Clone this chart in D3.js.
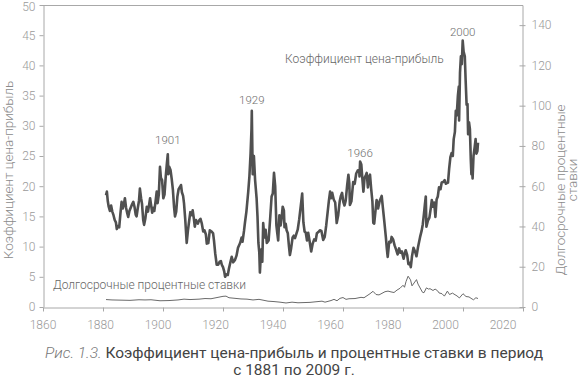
<!DOCTYPE html>
<html>
<head>
<meta charset="utf-8">
<script src="https://cdn.jsdelivr.net/npm/d3@7"></script>
<style>
  html, body { margin: 0; padding: 0; background: #fff; }
  svg { display: block; font-family: Roboto, "Open Sans", sans-serif; }
</style>
</head>
<body>
<svg id="chart" width="580" height="380"></svg>
<script>
// ---------- DATA ----------
const peYears = [
1881.0,1881.3,1881.6,1881.9,1882.3,1882.7,1883.1,1883.5,1883.9,1884.3,1884.6,1885.0,1885.4,1885.8,1886.2,1886.6,1887.0,1887.3,1887.7,1888.1,
1888.4,1888.8,1889.2,1889.6,1890.1,1890.5,1890.9,1891.2,1891.6,1892.0,1892.3,1892.7,1893.0,1893.4,1893.7,1894.1,1894.6,1895.0,1895.3,1895.7,
1896.0,1896.4,1896.8,1897.1,1897.5,1897.9,1898.2,1898.6,1899.0,1899.3,1899.7,1900.1,1900.5,1900.9,1901.3,1901.6,1901.8,1902.1,1902.5,1902.9,
1903.3,1903.7,1904.0,1904.4,1904.8,1905.2,1905.7,1906.0,1906.3,1906.7,1907.0,1907.4,1907.9,1908.3,1908.7,1909.1,1909.6,1909.9,1910.3,1910.6,
1911.0,1911.2,1911.6,1912.0,1912.5,1912.9,1913.4,1913.8,1914.3,1914.6,1915.1,1915.6,1916.2,1916.7,1917.0,1917.4,1917.9,1918.4,1918.9,1919.3,
1919.6,1920.0,1920.4,1920.7,1921.1,1921.6,1922.0,1922.5,1922.9,1923.4,1924.0,1924.5,1925.0,1925.7,1926.2,1926.5,1927.0,1927.3,1927.8,1928.4,
1928.8,1929.2,1929.5,1929.6,1929.9,1930.3,1930.7,1931.2,1931.5,1931.8,1932.1,1932.3,1932.7,1933.1,1933.4,1933.8,1934.2,1934.6,1935.2,1935.7,
1936.2,1936.6,1937.0,1937.4,1937.8,1938.1,1938.4,1938.8,1939.2,1939.5,1939.9,1940.3,1940.5,1940.9,1941.2,1941.6,1942.0,1942.3,1942.7,1943.2,
1943.6,1944.0,1944.5,1944.9,1945.4,1945.7,1946.1,1946.4,1946.8,1947.2,1947.6,1948.0,1948.4,1948.9,1949.4,1949.9,1950.4,1950.9,1951.3,1951.8,
1952.3,1952.8,1953.4,1953.9,1954.4,1954.9,1955.3,1955.7,1956.0,1956.4,1956.9,1957.4,1957.9,1958.4,1958.9,1959.3,1959.7,1960.1,1960.5,1960.9,
1961.4,1961.8,1962.1,1962.3,1962.8,1963.4,1963.9,1964.4,1964.9,1965.4,1965.5,1965.7,1966.1,1966.4,1966.8,1967.2,1967.6,1967.9,1968.3,1968.7,
1969.0,1969.4,1969.8,1970.1,1970.4,1970.8,1971.2,1971.7,1972.2,1972.9,1973.3,1973.8,1974.3,1974.6,1974.9,1975.4,1975.9,1976.2,1976.7,1977.2,
1977.7,1978.2,1978.7,1979.1,1979.6,1980.2,1980.6,1980.9,1981.4,1981.8,1982.3,1982.6,1983.0,1983.5,1984.0,1984.5,1985.0,1985.7,1986.2,1986.6,
1987.0,1987.3,1987.6,1987.8,1988.3,1988.8,1989.3,1989.6,1990.0,1990.4,1990.8,1991.2,1991.6,1992.0,1992.5,1992.9,1993.4,1993.9,1994.3,1994.6,
1995.0,1995.4,1995.8,1996.2,1996.6,1996.9,1997.3,1997.6,1997.9,1998.3,1998.6,1998.7,1999.0,1999.3,1999.6,1999.9,2000.2,2000.6,2000.9,2001.2,
2001.5,2001.7,2002.0,2002.3,2002.6,2002.8,2003.0,2003.2,2003.5,2003.9,2004.2,2004.5,2004.8,2005.0
];
const peValues = [
18.5,19.1,17.5,16.6,15.9,16.8,15.8,15.2,14.4,14.0,12.9,13.4,13.2,15.4,17.4,16.3,17.1,18.0,16.4,15.5,
14.9,15.9,16.4,16.9,17.4,16.6,15.3,15.0,16.4,17.6,19.6,18.0,17.1,14.4,13.6,14.6,16.6,15.8,16.7,18.0,
17.0,15.6,16.4,15.9,17.4,19.1,17.2,18.6,23.2,21.4,21.0,18.0,18.6,21.5,23.8,25.3,22.0,23.2,22.7,21.2,
19.4,16.5,15.0,15.8,18.3,19.5,19.9,20.2,19.0,18.4,17.2,14.6,10.6,12.6,14.2,15.7,15.2,16.0,14.6,13.3,
14.4,14.1,13.8,14.3,14.6,13.9,12.5,12.7,12.0,10.5,10.6,12.7,12.5,12.2,11.0,8.9,7.0,7.0,7.5,7.6,
7.0,6.6,5.9,5.0,5.4,5.3,6.4,7.5,8.3,7.4,7.8,8.5,9.8,10.6,11.5,10.8,12.6,13.9,15.8,19.0,
21.6,25.5,29.5,32.5,22.0,25.0,21.0,18.0,15.0,10.6,9.0,5.7,9.5,7.5,13.9,11.5,12.8,10.6,11.0,14.5,
18.3,18.8,22.2,20.0,13.5,12.2,11.0,15.2,13.5,14.5,16.6,16.0,13.2,13.8,12.7,12.2,10.0,8.6,9.7,11.5,
11.8,11.4,12.2,12.8,14.5,15.8,17.5,18.8,14.0,12.5,12.3,11.0,12.3,10.8,9.2,10.5,11.2,11.0,12.2,12.4,
12.7,12.6,11.1,11.6,13.5,15.8,17.6,19.1,18.0,18.9,17.8,17.3,13.9,15.2,17.5,18.4,18.9,17.4,16.8,17.6,
20.2,21.9,20.5,16.9,17.5,20.7,20.4,22.1,22.6,22.7,21.6,24.1,23.6,21.6,19.1,21.4,21.8,22.2,19.8,21.6,
21.9,19.5,17.5,13.9,13.8,15.8,17.7,16.3,17.5,18.4,16.4,14.0,11.5,9.7,8.3,10.8,10.7,11.6,11.2,10.2,
9.5,8.7,9.7,9.0,9.2,8.0,8.9,9.4,8.6,7.1,7.3,6.6,8.4,9.8,9.2,8.4,9.9,11.6,12.6,13.7,
15.5,17.0,18.3,13.3,14.3,14.8,16.5,17.7,16.6,17.3,14.9,17.8,18.3,19.8,19.5,20.6,20.7,21.0,20.4,20.5,
20.6,23.0,24.8,25.5,25.0,27.8,29.0,32.5,31.7,35.0,36.5,30.9,38.8,41.5,40.2,44.1,42.3,41.5,37.3,33.5,
33.6,28.6,30.6,29.5,24.4,22.0,23.4,21.3,25.0,26.5,27.8,25.4,25.8,27.2
];

const rateYears = [
1881,1883,1886,1889,1892,1894,1896,1899,1902,1905,1907,1909,1912,1914,1916,1918,1920,1921,1922,1924,
1926,1928,1930,1932,1934,1935,1937,1939,1941,1943,1945,1947,1949,1951,1953,1954,1956,1957,1958,1959,
1960,1961,1962,1964,1966,1967,1968,1969,1970,1971,1972,1973,1974,1975,1976,1977,1978,1979,1980,1980.5,
1981,1981.7,1982.5,1983,1984.5,1985,1986.5,1987,1987.8,1988.5,1989,1990,1990.7,1991.5,1992,1993,1993.8,1994.8,1995.5,1996.5,
1997,1998,1998.8,2000,2001,2002,2003,2003.5,2004.3,2005
];
const rateValues = [
3.7,3.5,3.4,3.3,3.6,3.5,3.6,3.1,3.2,3.5,3.9,3.7,3.9,4.2,4.1,4.7,5.3,5.4,4.6,4.3,
4.0,3.9,3.5,3.8,3.2,2.9,2.7,2.4,2.0,2.4,2.1,2.2,2.3,2.6,2.9,2.4,3.2,3.8,3.1,4.3,
4.7,3.8,4.1,4.2,4.8,4.6,5.6,6.6,7.8,6.2,6.0,6.8,7.6,7.9,7.5,7.2,8.4,9.3,10.8,9.8,
12.6,15.3,13.5,10.5,13.6,11.4,7.3,7.1,9.5,8.9,9.1,8.2,8.9,8.1,7.0,6.6,5.4,7.9,6.2,6.9,
6.4,5.5,4.5,6.6,5.2,5.0,4.0,3.6,4.6,4.2
];

const xTickYears = [1860,1880,1900,1920,1940,1960,1980,2000,2020];
const xTickLabels = ["1860","1880","1900","1920","1940","1960","1980","2000","2020"];
const leftTicks = [0,5,10,15,20,25,30,35,40,45,50];
const rightTicks = [0,20,40,60,80,100,120,140];

const peakLabels = ["1901","1929","1966","2000"];
const peakYears  = [1901.6,1929.6,1965.7,1999.9];
const peakLabelPE = [27.0,33.6,24.8,44.9];

// ---------- LAYOUT ----------
const plot = {left: 43, right: 523, top: 5, bottom: 307};
const svg = d3.select("#chart");

const x = d3.scaleLinear().domain([1860, 2020]).range([plot.left, plot.right]);
const xLab = d3.scalePoint().domain(xTickLabels).range([plot.left, 503]);
const yL = d3.scaleLinear().domain([0, 50]).range([plot.bottom, plot.top]);
const yR = d3.scaleLinear().domain([0, 150]).range([plot.bottom, plot.top]);

const axisColor = "#a8a8a8";
const tickText = "#9a9a9a";

// frame (top border)
svg.append("line")
  .attr("x1", plot.left).attr("x2", plot.right)
  .attr("y1", plot.top + 0.5).attr("y2", plot.top + 0.5)
  .attr("stroke", axisColor).attr("stroke-width", 1);

// bottom axis (ticks only)
const gx = svg.append("g").attr("transform", `translate(0,${plot.bottom + 0.5})`)
  .call(d3.axisBottom(x).tickValues(xTickYears).tickFormat("").tickSize(4).tickSizeOuter(0));
gx.select(".domain").attr("stroke", axisColor);
gx.selectAll(".tick line").attr("stroke", axisColor);

// bottom labels
svg.append("g").selectAll("text").data(xTickLabels).join("text")
  .attr("x", d => xLab(d)).attr("y", 329)
  .attr("text-anchor", "middle")
  .attr("font-size", 12).attr("font-weight", 300)
  .attr("fill", tickText).text(d => d);

// left axis
const gl = svg.append("g").attr("transform", `translate(${plot.left + 0.5},0)`)
  .call(d3.axisLeft(yL).tickValues(leftTicks).tickSize(4).tickSizeOuter(0).tickPadding(4));
gl.select(".domain").attr("stroke", axisColor);
gl.selectAll(".tick line").attr("stroke", axisColor);
gl.selectAll(".tick text").attr("fill", tickText).attr("font-size", 12)
  .attr("font-weight", 300).attr("font-family", "Roboto, sans-serif")
  .attr("dy", d => d === 50 ? "0.42em" : "0.32em");

// right axis
const gr = svg.append("g").attr("transform", `translate(${plot.right - 0.5},0)`)
  .call(d3.axisRight(yR).tickValues(rightTicks).tickSize(3).tickSizeOuter(0).tickPadding(6));
gr.select(".domain").attr("stroke", axisColor);
gr.selectAll(".tick line").attr("stroke", axisColor).attr("x1", -3);
gr.selectAll(".tick text").attr("fill", tickText).attr("font-size", 12)
  .attr("font-weight", 300).attr("font-family", "Roboto, sans-serif");

// rate line
const rateData = rateYears.map((yr, i) => [yr, rateValues[i]]);
svg.append("path").datum(rateData)
  .attr("fill", "none").attr("stroke", "#6a6a6a").attr("stroke-width", 1)
  .attr("d", d3.line().x(d => x(d[0])).y(d => yR(d[1])));

// P/E line
const peData = peYears.map((yr, i) => [yr, peValues[i]]);
svg.append("path").datum(peData)
  .attr("fill", "none").attr("stroke", "#505050").attr("stroke-width", 2.6)
  .attr("stroke-linejoin", "round")
  .attr("d", d3.line().x(d => x(d[0])).y(d => yL(d[1])));

// peak labels
svg.append("g").selectAll("text").data(peakLabels).join("text")
  .attr("x", (d, i) => x(peakYears[i])).attr("y", (d, i) => yL(peakLabelPE[i]))
  .attr("text-anchor", "middle").attr("font-size", 11.5).attr("font-weight", 300)
  .attr("fill", "#6e6e6e").text(d => d);

// series annotations
svg.append("text").attr("x", 285).attr("y", 63)
  .attr("font-size", 12).attr("font-weight", 300).attr("fill", "#666")
  .text("Коэффициент цена-прибыль");
svg.append("text").attr("x", 53).attr("y", 289)
  .attr("font-size", 12).attr("font-weight", 300).attr("fill", "#666")
  .text("Долгосрочные процентные ставки");

// axis titles
svg.append("text")
  .attr("transform", "translate(13,170) rotate(-90)")
  .attr("text-anchor", "middle").attr("font-size", 13.5).attr("font-weight", 300)
  .attr("fill", "#8a8a8a").text("Коэффициент цена-прибыль");
svg.append("text")
  .attr("transform", "translate(565,190) rotate(-90)")
  .attr("text-anchor", "middle").attr("font-size", 13.5).attr("font-weight", 300)
  .attr("fill", "#8a8a8a").text("Долгосрочные процентные");
svg.append("text")
  .attr("transform", "translate(577,180) rotate(-90)")
  .attr("text-anchor", "middle").attr("font-size", 13.5).attr("font-weight", 300)
  .attr("fill", "#8a8a8a").text("ставки");

// caption
const cap = svg.append("text").attr("x", 294).attr("y", 358)
  .attr("text-anchor", "middle").attr("font-size", 15.5).attr("fill", "#444");
cap.append("tspan").attr("font-style", "italic").attr("font-weight", 300).attr("fill", "#777").text("Рис. 1.3. ");
cap.append("tspan").text("Коэффициент цена-прибыль и процентные ставки в период");
svg.append("text").attr("x", 294).attr("y", 375)
  .attr("text-anchor", "middle").attr("font-size", 15.5).attr("fill", "#444")
  .text("с 1881 по 2009 г.");
</script>
</body>
</html>
